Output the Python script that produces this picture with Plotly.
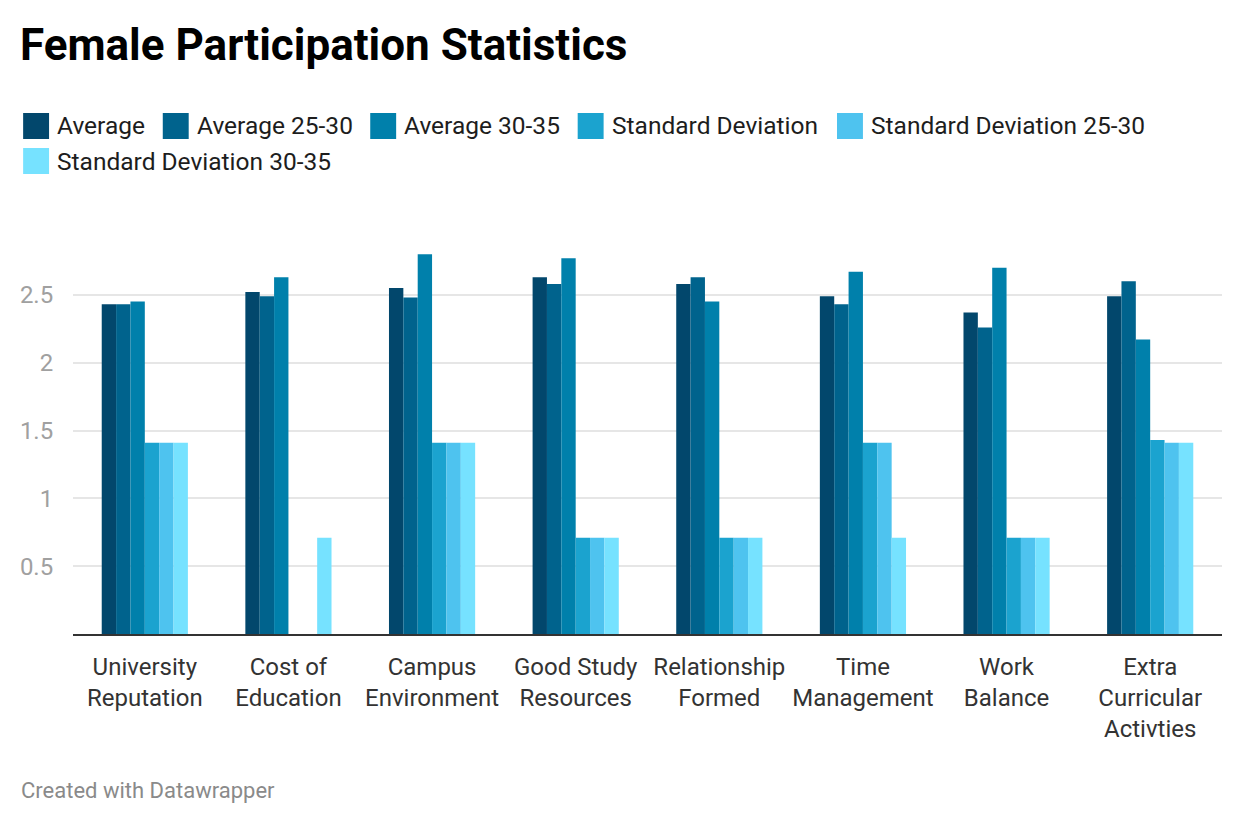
import plotly.graph_objects as go

categories = ["University<br>Reputation", "Cost of<br>Education", "Campus<br>Environment",
              "Good Study<br>Resources", "Relationship<br>Formed", "Time<br>Management",
              "Work<br>Balance", "Extra<br>Curricular<br>Activties"]

series_names = ["Average", "Average 25-30", "Average 30-35", "Standard Deviation",
                "Standard Deviation 25-30", "Standard Deviation 30-35"]

average = [2.43, 2.52, 2.55, 2.63, 2.58, 2.49, 2.37, 2.49]
average_25_30 = [2.43, 2.49, 2.48, 2.58, 2.63, 2.43, 2.26, 2.60]
average_30_35 = [2.45, 2.63, 2.80, 2.77, 2.45, 2.67, 2.70, 2.17]
std_dev = [1.41, None, 1.41, 0.71, 0.71, 1.41, 0.71, 1.43]
std_dev_25_30 = [1.41, None, 1.41, 0.71, 0.71, 1.41, 0.71, 1.41]
std_dev_30_35 = [1.41, 0.71, 1.41, 0.71, 0.71, 0.71, 0.71, 1.41]

series_values = [average, average_25_30, average_30_35, std_dev, std_dev_25_30, std_dev_30_35]
colors = ["#02476c", "#00638d", "#0080ab", "#1ba3cf", "#4ec3ef", "#76e2ff"]

y_ticks = [0.5, 1, 1.5, 2, 2.5]
y_tick_text = ["0.5", "1", "1.5", "2", "2.5"]

# page body has an 8px margin; figure coordinates = screen coordinates - OFF
OFF = 8
W, H = 1240 - OFF, 840 - OFF
ML, MR, MT, MB = 70 - OFF, 18, 227 - OFF, 206
PW, PH = W - ML - MR, H - MT - MB

FONT = "Roboto, 'Noto Sans', sans-serif"

fig = go.Figure()
for name, vals, col in zip(series_names, series_values, colors):
    fig.add_trace(go.Bar(x=categories, y=vals, name=name, marker=dict(color=col, line=dict(width=0)),
                         showlegend=False))

def px_x(sx):
    return (sx - OFF - ML) / PW

def px_y(sy):
    return (H - MB - (sy - OFF)) / PH

# manual legend (screen pixel positions)
legend_pos = [(20, 126), (160, 126), (368, 126), (576, 126), (836, 126), (20, 161)]
shapes = []
annotations = []
for (lx, ly), name, col in zip(legend_pos, series_names, colors):
    shapes.append(dict(type="rect", xref="paper", yref="paper",
                       x0=px_x(lx), x1=px_x(lx + 26), y0=px_y(ly + 13), y1=px_y(ly - 13),
                       fillcolor=col, line=dict(width=0), layer="above"))
    annotations.append(dict(xref="paper", yref="paper", x=px_x(lx + 35), y=px_y(ly), xshift=-3,
                            xanchor="left", yanchor="middle", text=name, showarrow=False,
                            font=dict(family=FONT, size=24.5, color="#1d1d1d")))

annotations.append(dict(xref="paper", yref="paper", x=px_x(20), y=px_y(790), xshift=-4,
                        xanchor="left", yanchor="middle", text="Created with Datawrapper",
                        showarrow=False, font=dict(family=FONT, size=22, color="#8a8a8a")))

fig.update_layout(
    width=W, height=H,
    margin=dict(l=ML, r=MR, t=MT, b=MB, pad=0),
    paper_bgcolor="white", plot_bgcolor="white",
    title=dict(text="<b>Female Participation Statistics</b>", x=(20 - OFF) / W, xanchor="left",
               y=1 - (45 - OFF) / H, yanchor="middle",
               font=dict(family=FONT, size=44, color="#000000")),
    barmode="group", bargap=0.4, bargroupgap=0,
    shapes=shapes, annotations=annotations,
    xaxis=dict(showgrid=False, showline=True, linecolor="#333333", linewidth=2,
               tickfont=dict(family=FONT, size=24, color="#333333"),
               ticks="outside", ticklen=10, tickcolor="rgba(0,0,0,0)"),
    yaxis=dict(range=[0, 3.0], tickvals=y_ticks, ticktext=y_tick_text,
               showgrid=True, gridcolor="#e6e6e6", gridwidth=2, zeroline=False,
               tickfont=dict(family=FONT, size=24, color="#a0a0a0"),
               ticks="outside", ticklen=14, tickcolor="rgba(0,0,0,0)"),
)

fig.write_html("out.html")
